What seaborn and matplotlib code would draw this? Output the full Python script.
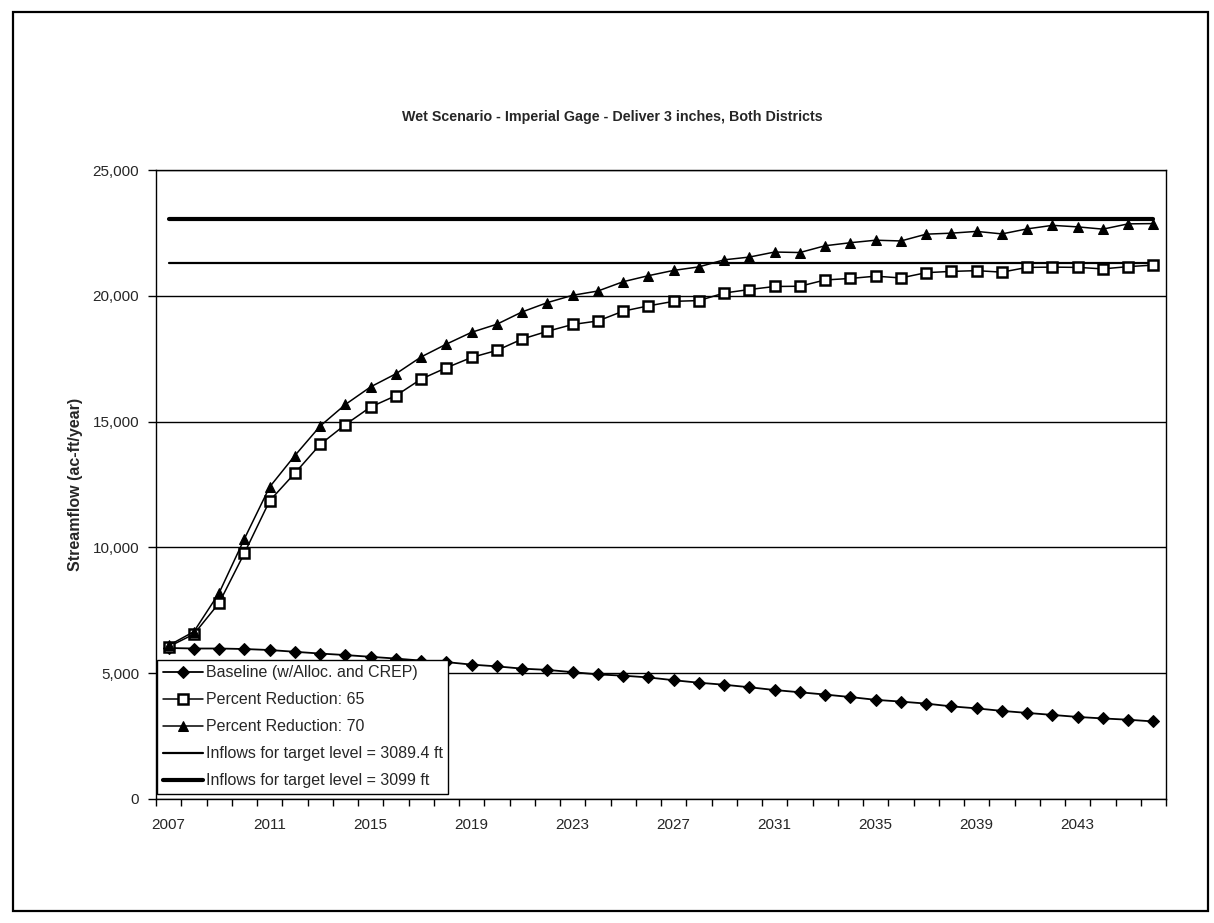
import matplotlib
matplotlib.use("Agg")
import matplotlib.pyplot as plt
import seaborn as sns
import numpy as np
from matplotlib.patches import Rectangle
from matplotlib.ticker import FuncFormatter, FixedLocator

# ---- data -------------------------------------------------------------
years = list(range(2007, 2047))

baseline = [6000, 5980, 5980, 5960, 5920, 5850, 5780, 5720, 5650, 5580,
            5500, 5440, 5340, 5270, 5180, 5130, 5040, 4950, 4900, 4830,
            4720, 4620, 4540, 4440, 4330, 4240, 4150, 4050, 3940, 3870,
            3790, 3680, 3600, 3500, 3420, 3340, 3260, 3200, 3150, 3080]

reduction_65 = [6050, 6550, 7790, 9770, 11850, 12950, 14090, 14880, 15580, 16030,
                16690, 17140, 17550, 17830, 18280, 18590, 18860, 19000, 19390, 19600,
                19780, 19810, 20110, 20250, 20370, 20380, 20630, 20690, 20780, 20710,
                20920, 20970, 21000, 20940, 21130, 21140, 21130, 21070, 21160, 21220]

reduction_70 = [6100, 6650, 8190, 10340, 12400, 13650, 14820, 15680, 16380, 16900,
                17570, 18080, 18550, 18870, 19360, 19730, 20020, 20190, 20560, 20800,
                21010, 21150, 21430, 21540, 21740, 21720, 21990, 22110, 22210, 22180,
                22450, 22490, 22560, 22460, 22660, 22800, 22740, 22650, 22860, 22870]

target_3089 = 21300   # inflows needed for target level 3089.4 ft
target_3099 = 23070   # inflows needed for target level 3099 ft

labels = ["Baseline (w/Alloc. and CREP)",
          "Percent Reduction: 65",
          "Percent Reduction: 70",
          "Inflows for target level = 3089.4 ft",
          "Inflows for target level = 3099 ft"]

title = "Wet Scenario - Imperial Gage - Deliver 3 inches, Both Districts"
ylabel = "Streamflow (ac-ft/year)"
y_ticks = [0, 5000, 10000, 15000, 20000, 25000]
label_every = 4

# ---- figure -----------------------------------------------------------
sns.set_theme(style="white")
plt.rcParams['font.family'] = ['Liberation Sans', 'DejaVu Sans']

fig = plt.figure(figsize=(12.14, 9.23), dpi=100)
fig.patch.set_facecolor("white")
ax = fig.add_axes([0.1285, 0.1344, 0.832, 0.6814])

pos = np.arange(len(years))

sns.lineplot(x=pos, y=baseline, ax=ax, color="black", lw=1.3,
             marker="D", markersize=6, markeredgecolor="black",
             markerfacecolor="black", label=labels[0], zorder=5)
sns.lineplot(x=pos, y=reduction_65, ax=ax, color="black", lw=1.1,
             marker="s", markersize=6.5, markeredgecolor="black",
             markerfacecolor="white", markeredgewidth=1.8,
             label=labels[1], zorder=5)
sns.lineplot(x=pos, y=reduction_70, ax=ax, color="black", lw=1.1,
             marker="^", markersize=7, markeredgecolor="black",
             markerfacecolor="black", label=labels[2], zorder=5)
sns.lineplot(x=pos, y=np.full(len(years), target_3089), ax=ax,
             color="black", lw=1.6, label=labels[3], zorder=4)
sns.lineplot(x=pos, y=np.full(len(years), target_3099), ax=ax,
             color="black", lw=3.0, label=labels[4], zorder=4)

# ---- axes -------------------------------------------------------------
ax.set_xlim(-0.5, len(years) - 0.5)
ax.set_ylim(0, 25000)

ax.yaxis.set_major_locator(FixedLocator(y_ticks))
ax.yaxis.set_major_formatter(FuncFormatter(lambda v, p: f"{v:,.0f}"))
ax.yaxis.grid(True, color="black", lw=1.0)
ax.xaxis.grid(False)

label_pos = pos[::label_every]
ax.xaxis.set_major_locator(FixedLocator(label_pos))
ax.set_xticklabels([str(years[i]) for i in label_pos])
ax.xaxis.set_minor_locator(FixedLocator(np.arange(-0.5, len(years), 1.0)))

ax.tick_params(axis="y", which="major", left=True, direction="out",
               length=6, width=1, color="black", labelsize=11, pad=6)
ax.tick_params(axis="x", which="major", bottom=True, length=0,
               labelsize=11, pad=14)
ax.tick_params(axis="x", which="minor", bottom=True, direction="out",
               length=5, width=1, color="black")

for side in ["left", "bottom", "right", "top"]:
    ax.spines[side].set_visible(True)
    ax.spines[side].set_color("black")
    ax.spines[side].set_linewidth(1.0)

ax.set_xlabel("")
ax.set_ylabel("")
fig.text(0.062, 0.4755, ylabel, rotation=90, ha="center", va="center",
         fontsize=11.5, fontweight="bold")
fig.text(0.504, 0.873, title, ha="center", va="center",
         fontsize=10.3, fontweight="bold")

leg = ax.legend(loc="lower left", bbox_to_anchor=(0.001, 0.008),
                frameon=True, fancybox=False, framealpha=1,
                edgecolor="black", fontsize=11.5, handlelength=2.5,
                handletextpad=0.2, labelspacing=0.75, borderpad=0.35,
                borderaxespad=0.0)
leg.get_frame().set_linewidth(1.0)
leg.set_zorder(10)

# chart-area border
fig.add_artist(Rectangle((0.011, 0.013), 0.984, 0.974,
                         transform=fig.transFigure, fill=False,
                         lw=1.6, ec="black"))

fig.savefig("out.png", dpi=100, facecolor="white")
